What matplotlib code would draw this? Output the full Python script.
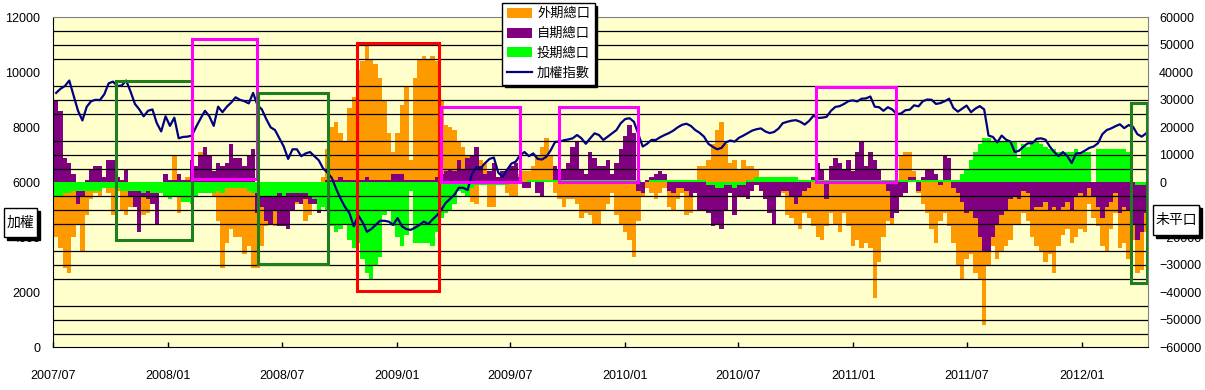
import numpy as np
import pandas as pd
import matplotlib
matplotlib.use('Agg')
import matplotlib.pyplot as plt
from matplotlib.patches import Patch, Rectangle
from matplotlib.lines import Line2D

plt.rcParams['font.family'] = ['Liberation Sans', 'Noto Sans CJK TC', 'DejaVu Sans']

# weekly samples, 2007/07 - 2012/04
weeks = pd.date_range('2007-07-06', periods=250, freq='7D')

# open interest in thousands of lots
foreign_k = [
    -20, -24, -31, -33, -20, -15, -25, -12, -6, -4,
    -5, -2, -4, -12, -3, -10, -12, -9, -6, -9,
    -12, -11, -6, -5, -4, -2, -3, 10, -11, -3,
    2, 5, 4, 11, 3, 2, -5, -14, -31, -22,
    -17, -20, -20, -26, -23, -31, -31, -23, -16, -10,
    -16, -15, -12, -10, -6, -8, -5, -14, -12, -4,
    -3, 2, 12, 20, 22, 18, 15, 27, 31, 41,
    44, 50, 45, 43, 38, 30, 18, 11, 18, 28,
    35, 8, 38, 45, 46, 45, 46, 44, 30, 21,
    20, 19, 15, 13, 10, -7, -8, 8, 7, -9,
    -9, 2, 3, -4, -5, -5, 3, 4, 4, 6,
    10, 13, 16, 10, -4, -6, -9, -6, -6, -8,
    -13, -11, -12, -15, -15, -10, -8, -4, -12, -15,
    -18, -21, -27, -14, -5, -2, -4, -6, -4, -2,
    -9, -10, -6, -4, -12, -11, -4, 6, 6, 8,
    14, 19, 22, 14, 7, 8, 5, 8, 6, 6,
    5, 1, -1, -1, -1, 2, -4, -12, -13, -15,
    -17, -11, -13, -16, -20, -21, -16, -11, -15, -18,
    -11, -16, -23, -21, -24, -22, -24, -42, -29, -20,
    -14, -15, -8, 10, 11, 11, 4, -4, -8, -11,
    -17, -22, -14, -11, -16, -22, -30, -35, -28, -26,
    -33, -35, -52, -30, -23, -28, -25, -23, -21, -15,
    -15, -11, -14, -20, -23, -25, -29, -26, -33, -23,
    -19, -17, -22, -20, -17, -18, -8, -13, -16, -23,
    -25, -17, -11, -24, -22, -28, -21, -33, -32, -18]

dealer_k = [
    30, 26, 9, 7, 3, -8, -5, 1, 5, 6,
    6, 2, 8, 8, 2, 1, 5, -5, -9, -18,
    -5, -6, -8, -15, -3, 3, 1, 1, 3, 1,
    1, 8, 6, 10, 13, 10, 4, 7, 6, 7,
    14, 9, 9, 6, 10, 12, -11, -9, -14, -15,
    -10, -16, -16, -17, -10, -7, -8, -6, -8, -8,
    -11, -2, 1, 1, 1, 2, 1, 1, 1, 1,
    1, 2, 1, 1, 1, 1, 1, 3, 3, 3,
    1, 1, 1, 1, 1, 1, 1, 2, 3, 4,
    5, 4, 8, 5, 9, 10, 13, 6, 3, 4,
    7, 2, 4, 5, 6, 7, 2, -2, -2, 1,
    -4, -5, 1, 1, 6, 5, 5, 7, 13, 15,
    5, 3, 11, 9, 6, 6, 8, 3, 7, 12,
    17, 21, 18, -3, -4, 1, 2, 3, 4, 3,
    -3, -4, -2, -2, -3, -5, -4, -10, -10, -11,
    -16, -15, -17, -10, -4, -12, -5, -5, -6, -3,
    -1, -3, -6, -11, -15, -5, -3, -3, -5, -8,
    -5, -3, -2, 2, 7, 5, -6, 6, 9, 7,
    5, 8, 4, 11, 15, 6, 11, 8, 5, 1,
    -3, -13, -11, -5, -4, 2, 2, -3, 2, 5,
    5, 3, -1, 10, 9, -2, -4, -7, -11, -10,
    -13, -20, -25, -25, -20, -15, -12, -10, -6, -5,
    -6, -3, -4, -10, -9, -9, -7, -10, -9, -10,
    -9, -7, -10, -5, -4, -5, -2, -5, -9, -13,
    -9, -7, -4, -11, -9, -10, -15, -21, -18, -11]

trust_k = [
    -5, -5, -4, -4, -3, -3, -3, -3, -3, -3,
    -3, -2, -2, -2, -2, -3, -3, -3, -3, -3,
    -4, -3, -4, -4, -4, -5, -6, -5, -5, -7,
    -7, -8, -5, -4, -4, -4, -4, -3, -4, -2,
    -2, -2, -2, -2, -3, -4, -4, -5, -5, -5,
    -5, -4, -5, -4, -4, -4, -4, -4, -5, -6,
    -10, -9, -10, -16, -18, -17, -15, -21, -24, -22,
    -28, -33, -35, -30, -27, -12, -10, -16, -20, -23,
    -19, -3, -22, -22, -22, -22, -23, -18, -13, -11,
    -10, -8, -3, -4, -5, -2, -1, -1, -1, -1,
    -1, -1, -1, -1, 0, 0, 0, 0, 1, 1,
    1, 1, 1, 1, 1, 1, 1, 1, 1, 1,
    1, 1, 1, 1, 1, 1, 1, 1, 1, 1,
    1, 1, 1, 1, 0, 0, 1, 1, 1, 1,
    1, 1, 1, 1, 1, 1, 1, 1, 1, -1,
    -1, -2, -2, -1, -1, -2, -1, -1, 1, 1,
    2, 2, 2, 2, 2, 2, 2, 2, 2, 2,
    1, 1, 1, 1, 1, 1, 1, 1, 1, 1,
    1, 1, 1, 1, 1, 1, 1, 1, 1, 1,
    1, 1, 1, 1, 1, 1, 1, 1, 1, 1,
    1, 1, 1, 1, 1, 1, 1, 3, 5, 8,
    11, 14, 16, 16, 15, 15, 15, 15, 15, 15,
    9, 14, 13, 14, 15, 14, 13, 12, 12, 11,
    11, 11, 11, 12, 11, 11, 11, 0, 12, 12,
    12, 12, 12, 12, 12, 11, 0, -1, -1, -1]

taiex = [
    9250, 9400, 9500, 9700, 9150, 8600, 8250, 8750, 8950, 9000,
    8990, 9200, 9600, 9660, 9500, 9520, 9700, 9300, 8850, 8650,
    8400, 8600, 8650, 8150, 7850, 8400, 8050, 8350, 7600, 7650,
    7660, 7700, 8020, 8320, 8600, 8400, 8050, 8750, 8550, 8750,
    8900, 9090, 9000, 8950, 8870, 9250, 8800, 8650, 8300, 8000,
    7900, 7600, 7300, 6850, 7200, 7200, 6950, 7050, 7100, 6950,
    6800, 6500, 6350, 6150, 5750, 5400, 5100, 4880, 4400, 4800,
    4550, 4200, 4300, 4450, 4600, 4600, 4570, 4450, 4700, 4400,
    4300, 4270, 4350, 4450, 4570, 4480, 4650, 4800, 5000, 5250,
    5400, 5550, 5800, 5800, 5720, 6300, 6550, 6520, 6700, 6850,
    6900, 6350, 6200, 6450, 6680, 6750, 6990, 7100, 6950, 7050,
    6850, 6830, 6930, 7170, 7470, 7480, 7530, 7560, 7600, 7720,
    7600, 7400, 7600, 7780, 7720, 7540, 7660, 7780, 7900, 8150,
    8300, 8330, 8200, 7750, 7300, 7400, 7540, 7540, 7640, 7720,
    7790, 7880, 8000, 8090, 8130, 8050, 7900, 7800, 7660, 7400,
    7290, 7200, 7250, 7450, 7520, 7480, 7620, 7700, 7790, 7880,
    7930, 7960, 7850, 7790, 7830, 7950, 8150, 8200, 8240, 8260,
    8200, 8100, 8230, 8420, 8340, 8350, 8380, 8600, 8740, 8770,
    8850, 8950, 8980, 8940, 9040, 9050, 9120, 8750, 8730, 8600,
    8730, 8650, 8480, 8500, 8620, 8640, 8800, 8760, 8950, 9010,
    9000, 8850, 8880, 8950, 9040, 8700, 8570, 8680, 8790, 8550,
    8680, 8770, 8650, 7700, 7650, 7450, 7700, 7550, 7480, 7100,
    7150, 7300, 7420, 7420, 7580, 7600, 7550, 7300, 7100, 6950,
    7100, 6950, 6700, 7050, 7060, 7150, 7250, 7300, 7420, 7750,
    7900, 7960, 8040, 8110, 7970, 8080, 8020, 7750, 7660, 7780]

labels = ['外期總口', '自期總口', '投期總口', '加權指數']

# highlight boxes: start, end, low, high (index scale), colour
boxes = [
    ('2007-10-10', '2008-02-08', 3900, 9700, '#1E7E1E'),
    ('2008-02-08', '2008-05-22', 6120, 11200, '#FF00FF'),
    ('2008-05-24', '2008-09-13', 3020, 9240, '#1E7E1E'),
    ('2008-10-29', '2009-03-09', 2060, 11050, '#FF0000'),
    ('2009-03-13', '2009-07-17', 6020, 8730, '#FF00FF'),
    ('2009-09-17', '2010-01-22', 6020, 8730, '#FF00FF'),
    ('2010-11-02', '2011-03-10', 6020, 9450, '#FF00FF'),
    ('2012-03-20', '2012-04-14', 2350, 8870, '#1E7E1E'),
]

ticks = pd.date_range('2007-07-01', '2012-01-01', freq='6MS')

W, H = 1205, 390
fig = plt.figure(figsize=(W / 100, H / 100), dpi=100)
ax1 = fig.add_axes([53 / W, 1 - 347.3 / H, 1095 / W, 330 / H])
ax2 = ax1.twinx()
ax1.set_zorder(2)
ax2.set_zorder(1)
ax1.patch.set_visible(False)
ax2.patch.set_visible(True)
ax2.patch.set_facecolor('#FFFFCC')

# bars on the right (open interest) axis
ax2.bar(weeks, np.array(foreign_k) * 1000, width=7, color='#FF9900', linewidth=0)
ax2.bar(weeks, np.array(dealer_k) * 1000, width=7, color='#800080', linewidth=0)
ax2.bar(weeks, np.array(trust_k) * 1000, width=7, color='#00FF00', linewidth=0)
ax2.set_ylim(-60000, 60000)
ax2.set_yticks(np.arange(-60000, 60001, 10000))
ax2.tick_params(axis='y', length=0, pad=8, labelsize=9)
for s in ax2.spines.values():
    s.set_visible(False)

# index line on the left axis
ax1.plot(weeks, taiex, color='#000080', lw=1.6, zorder=3)
ax1.set_ylim(0, 12000)
ax1.set_yticks(np.arange(0, 12001, 2000))
ax1.set_yticks(np.arange(500, 12000, 500), minor=True)
ax1.grid(which='minor', axis='y', color='black', lw=0.9)
ax1.tick_params(axis='y', which='both', length=0, pad=9, labelsize=9)

for start, end, lo, hi, c in boxes:
    s = pd.Timestamp(start)
    e = pd.Timestamp(end)
    ax1.add_patch(Rectangle((s, lo), e - s, hi - lo, fill=False, edgecolor=c,
                            lw=2.2, zorder=4))

ax1.set_xlim(pd.Timestamp('2007-07-01'), pd.Timestamp('2012-04-16'))
ax1.set_xticks(ticks)
ax1.set_xticklabels([t.strftime('%Y/%m') for t in ticks])
ax1.tick_params(axis='x', direction='in', length=3.5, width=1, pad=16, labelsize=9)

ax1.spines['left'].set_color('black')
ax1.spines['bottom'].set_color('black')
ax1.spines['top'].set_color('#808080')
ax1.spines['right'].set_color('#808080')

handles = [Patch(facecolor='#FF9900'), Patch(facecolor='#800080'),
           Patch(facecolor='#00FF00'), Line2D([], [], color='#000080', lw=1.6)]
leg = fig.legend(handles, labels, loc='upper left',
                 bbox_to_anchor=(502 / W, 1 - 3 / H), fontsize=9.5,
                 fancybox=False, shadow={'color': 'black', 'alpha': 1},
                 edgecolor='black', framealpha=1, borderpad=0.35,
                 labelspacing=0.55, handlelength=1.9, handleheight=0.8,
                 handletextpad=0.4, borderaxespad=0)
leg.get_frame().set_linewidth(1.0)


def label_box(x0, y0, x1, y1, text):
    fig.add_artist(Rectangle(((x0 + 3) / W, 1 - (y1 + 3) / H), (x1 - x0) / W,
                             (y1 - y0) / H, transform=fig.transFigure,
                             facecolor='black', edgecolor='black', zorder=10))
    fig.add_artist(Rectangle((x0 / W, 1 - y1 / H), (x1 - x0) / W,
                             (y1 - y0) / H, transform=fig.transFigure,
                             facecolor='white', edgecolor='black', lw=1, zorder=11))
    fig.text((x0 + x1) / 2 / W, 1 - (y0 + y1) / 2 / H, text, ha='center',
             va='center', fontsize=10, zorder=12)


label_box(4, 208, 37, 237, '加權')
label_box(1153, 205, 1199, 235, '未平口')

fig.savefig('out.png', dpi=100)
